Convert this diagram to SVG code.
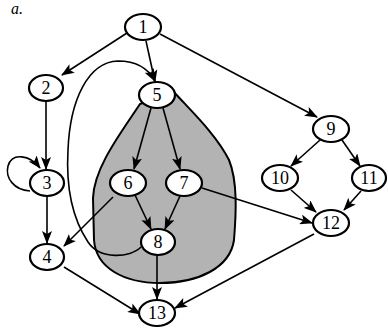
<svg xmlns="http://www.w3.org/2000/svg" width="388" height="329" viewBox="0 0 388 329">
<defs>
<marker id="ah" markerUnits="userSpaceOnUse" markerWidth="13" markerHeight="10" viewBox="0 0 13 10" refX="12" refY="5" orient="auto">
<path d="M0,0 L13,5 L0,10 L3,5 Z" fill="#000"/>
</marker>
</defs>
<style>
.n ellipse{fill:#fff;stroke:#000;stroke-width:2.2}
.n text{font-family:"Liberation Serif","Times New Roman",serif;font-size:18px;text-anchor:middle;fill:#000}
.e path{fill:none;stroke:#000;stroke-width:1.6;marker-end:url(#ah)}
</style>
<rect width="388" height="329" fill="#fff"/>
<text x="11" y="14" font-family="Liberation Serif, serif" font-style="italic" font-size="16" fill="#000">a.</text>
<g id="region">
<path d="M173 91 C190 110,216 134,229 160 C238 182,236 215,234 240 C230 268,198 283,160 283 C124 283,96 268,94 240 L93 198 C94 168,120 134,140 104 Z" fill="#b3b3b3" stroke="#000" stroke-width="2"/>
</g>
<g id="connectors" class="e">
<path d="M127 33 L62 75"/>
<path d="M146 41 L155 82"/>
<path d="M160 34 L317 117"/>
<path d="M141 247 C130 258,100 260,88 242 C72 218,66 185,68 150 C70 100,88 62,118 61 C135 61,148 68,155 81"/>
<path d="M46 101 L46 169"/>
<path d="M30 191 C14 190,5 178,8 166 C12 152,30 155,40 168"/>
<path d="M47 196 L47 243"/>
<path d="M64 267 L140 314"/>
<path d="M113 197 L64 246"/>
<path d="M151 108 L134 169"/>
<path d="M163 108 L180 169"/>
<path d="M135 195 L151 229"/>
<path d="M180 196 L165 229"/>
<path d="M202 188 L312 223"/>
<path d="M157 255 L157 299"/>
<path d="M314 234 L175 308"/>
<path d="M320 140 L291 166"/>
<path d="M342 140 L360 166"/>
<path d="M291 190 L316 212"/>
<path d="M361 191 L344 210"/>
</g>
<g id="n1" class="n"><ellipse cx="143" cy="27" rx="18" ry="13"/><text x="143" y="33">1</text></g>
<g id="n2" class="n"><ellipse cx="46" cy="88" rx="17" ry="13"/><text x="46" y="94">2</text></g>
<g id="n3" class="n"><ellipse cx="47" cy="183" rx="17" ry="13"/><text x="47" y="189">3</text></g>
<g id="n4" class="n"><ellipse cx="47" cy="257" rx="17" ry="13"/><text x="47" y="263">4</text></g>
<g id="n5" class="n"><ellipse cx="157" cy="95" rx="18" ry="13"/><text x="157" y="101">5</text></g>
<g id="n6" class="n"><ellipse cx="128" cy="183" rx="18" ry="13"/><text x="128" y="189">6</text></g>
<g id="n7" class="n"><ellipse cx="184" cy="183" rx="18" ry="13"/><text x="184" y="189">7</text></g>
<g id="n8" class="n"><ellipse cx="158" cy="242" rx="17" ry="13"/><text x="158" y="248">8</text></g>
<g id="n9" class="n"><ellipse cx="331" cy="129" rx="18" ry="13"/><text x="331" y="135">9</text></g>
<g id="n10" class="n"><ellipse cx="280" cy="178" rx="18" ry="13"/><text x="280" y="184">10</text></g>
<g id="n11" class="n"><ellipse cx="369" cy="178" rx="17" ry="13"/><text x="369" y="184">11</text></g>
<g id="n12" class="n"><ellipse cx="331" cy="223" rx="18" ry="13"/><text x="331" y="229">12</text></g>
<g id="n13" class="n"><ellipse cx="157" cy="313" rx="18" ry="13"/><text x="157" y="319">13</text></g>
</svg>
